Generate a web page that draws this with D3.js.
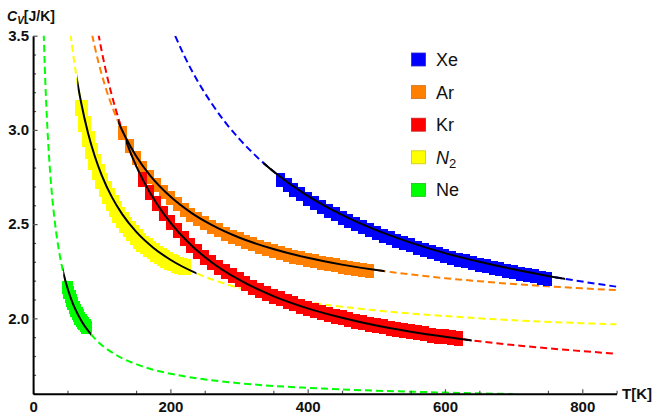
<!DOCTYPE html>
<html>
<head>
<meta charset="utf-8">
<script src="https://cdn.jsdelivr.net/npm/d3@7"></script>
<style>
  body { margin: 0; background: #fff; }
  svg { font-family: "Liberation Sans", Arial, sans-serif; }
</style>
</head>
<body>
<svg id="chart" width="659" height="416"></svg>
<script>
// measured heat capacity (T in K, Cv in J/K)
const xeT  = [360,370,380,390,400,410,420,430,440,450,460,470,480,490,500,510,520,530,540,550,560,570,580,590,600,610,620,630,640,650,660,670,680,690,700,710,720,730,740,750];
const xeCv = [2.736,2.709,2.683,2.658,2.635,2.613,2.592,2.571,2.552,2.534,2.516,2.499,2.483,2.468,2.453,2.439,2.425,2.412,2.399,2.387,2.375,2.363,2.352,2.342,2.331,2.321,2.312,2.302,2.293,2.285,2.276,2.268,2.260,2.252,2.245,2.237,2.230,2.223,2.216,2.210];

const arT  = [130,140,150,160,170,180,190,200,210,220,230,240,250,260,270,280,290,300,310,320,330,340,350,360,370,380,390,400,410,420,430,440,450,460,470,480,490];
const arCv = [2.985,2.913,2.852,2.798,2.750,2.708,2.670,2.636,2.605,2.577,2.551,2.527,2.506,2.486,2.467,2.450,2.434,2.419,2.405,2.392,2.380,2.369,2.358,2.347,2.338,2.328,2.320,2.311,2.303,2.296,2.289,2.282,2.275,2.269,2.263,2.257,2.252];

const krT  = [160,170,180,190,200,210,220,230,240,250,260,270,280,290,300,310,320,330,340,350,360,370,380,390,400,410,420,430,440,450,460,470,480,490,500,510,520,530,540,550,560,570,580,590,600,610,620];
const krCv = [2.735,2.668,2.609,2.555,2.508,2.464,2.425,2.389,2.356,2.325,2.298,2.272,2.248,2.226,2.204,2.185,2.166,2.150,2.133,2.118,2.104,2.090,2.077,2.065,2.053,2.042,2.032,2.021,2.012,2.003,1.994,1.985,1.977,1.969,1.962,1.955,1.948,1.941,1.935,1.929,1.923,1.918,1.911,1.906,1.901,1.896,1.892];

const n2T  = [70,75,80,85,90,95,100,105,110,115,120,125,130,135,140,145,150,155,160,165,170,175,180,185,190,195,200,205,210,215,220];
const n2Cv = [3.114,3.029,2.954,2.888,2.829,2.777,2.729,2.687,2.648,2.612,2.580,2.550,2.522,2.497,2.473,2.451,2.430,2.411,2.393,2.382,2.370,2.357,2.344,2.331,2.320,2.310,2.301,2.292,2.284,2.277,2.270];

const neT  = [50,52,54,56,58,60,62,64,66,68,70,72,74,76,78];
const neCv = [2.161,2.138,2.116,2.096,2.077,2.060,2.044,2.028,2.014,2.001,1.990,1.980,1.970,1.961,1.953];

// fitted curves
const xeFitT  = [207,220,240,260,280,300,330,360,400,450,500,550,600,650,700,750,800,850];
const xeFitCv = [3.499,3.395,3.257,3.141,3.040,2.954,2.843,2.751,2.650,2.549,2.468,2.402,2.346,2.300,2.260,2.225,2.195,2.168];

const arFitT  = [86,90,100,110,120,135,150,170,200,230,260,300,350,400,450,500,550,600,650,700,750,800,850];
const arFitCv = [3.505,3.438,3.294,3.176,3.078,2.958,2.862,2.760,2.646,2.561,2.496,2.429,2.368,2.321,2.285,2.256,2.233,2.213,2.197,2.182,2.170,2.159,2.150];

const krFitT  = [95,100,110,120,130,145,160,180,200,230,260,300,350,400,450,500,550,600,650,700,750,800,850];
const krFitCv = [3.512,3.417,3.251,3.114,2.997,2.852,2.735,2.609,2.508,2.389,2.298,2.205,2.118,2.053,2.003,1.962,1.929,1.902,1.878,1.858,1.841,1.826,1.812];

const n2FitT  = [54.5,60,65,70,80,90,100,115,130,150,175,200,240,280,330,400,500,600,700,850];
const n2FitCv = [3.509,3.358,3.243,3.144,2.984,2.859,2.759,2.642,2.552,2.460,2.375,2.311,2.236,2.183,2.134,2.086,2.042,2.012,1.990,1.968];

const neFitT  = [15.5,17,20,23,27,32,38,45,55,70,90,120,160,220,300,400,500,600,700];
const neFitCv = [3.510,3.337,3.070,2.872,2.677,2.502,2.352,2.228,2.106,1.988,1.892,1.808,1.744,1.693,1.656,1.631,1.616,1.606,1.598];

// temperature range of the solid (fitted) part
const fitTmin = [335,124,135,64.4,44];
const fitTmax = [775,512,639,238,84.3];

const names  = ["Xe","Ar","Kr","N2","Ne"];
const colors = ["#0000ff","#ff8000","#ff0000","#ffff00","#00ff00"];
const strokeColors = ["#2a2acc","#cc7020","#cc2020","#c8c820","#20c020"];

const xTicks = [0,200,400,600,800];
const yTicks = [2.0,2.5,3.0,3.5];

// marker size in px for each data set
const markW = [9,9,9,13,11];
const markH = [14,14,15,16,13];

const series = [
  {T: xeT, Cv: xeCv, fT: xeFitT, fCv: xeFitCv},
  {T: arT, Cv: arCv, fT: arFitT, fCv: arFitCv},
  {T: krT, Cv: krCv, fT: krFitT, fCv: krFitCv},
  {T: n2T, Cv: n2Cv, fT: n2FitT, fCv: n2FitCv},
  {T: neT, Cv: neCv, fT: neFitT, fCv: neFitCv}
].map((s, i) => ({...s, name: names[i], color: colors[i], tmin: fitTmin[i], tmax: fitTmax[i], w: markW[i], h: markH[i]}));

const svg = d3.select("#chart");

const x = d3.scaleLinear().domain([0, 850]).range([33.1, 616.6]);
const y = d3.scaleLinear().domain([1.6, 3.5]).range([393.7, 35.7]);

svg.append("clipPath").attr("id", "plotclip")
  .append("rect")
  .attr("x", x(0)).attr("y", y(3.5))
  .attr("width", x(850) - x(0)).attr("height", y(1.6) - y(3.5));

const line = d3.line()
  .x(d => x(d[0]))
  .y(d => y(d[1]))
  .curve(d3.curveMonotoneX);

const plot = svg.append("g").attr("clip-path", "url(#plotclip)");

// dashed fits
plot.selectAll(".fit")
  .data(series)
  .join("path")
  .attr("class", "fit")
  .attr("fill", "none")
  .attr("stroke", d => d.color)
  .attr("stroke-width", 2)
  .attr("stroke-dasharray", "7,4")
  .attr("d", d => line(d.fT.map((t, k) => [t, d.fCv[k]])));

// data points as small rectangles
series.forEach(s => {
  plot.append("g")
    .attr("shape-rendering", "crispEdges")
    .selectAll("rect")
    .data(s.T.map((t, k) => [t, s.Cv[k]]))
    .join("rect")
    .attr("x", d => x(d[0]) - s.w / 2)
    .attr("y", d => y(d[1]) - s.h / 2)
    .attr("width", s.w)
    .attr("height", s.h)
    .attr("fill", s.color);
});

// solid black part of each fit over the measured range
series.forEach((s, i) => {
  svg.append("clipPath").attr("id", "solid" + i)
    .append("rect")
    .attr("x", x(s.tmin)).attr("y", y(3.5))
    .attr("width", x(s.tmax) - x(s.tmin)).attr("height", y(1.6) - y(3.5));
  plot.append("g").attr("clip-path", "url(#solid" + i + ")")
    .append("path")
    .attr("fill", "none")
    .attr("stroke", "#000")
    .attr("stroke-width", 2)
    .attr("d", line(s.fT.map((t, k) => [t, s.fCv[k]])));
});

// axes (ticks point inward)
const xMinor = d3.range(50, 851, 100);
const yMinor = d3.range(1.6, 3.45, 0.1).filter(v => Math.abs(v * 2 - Math.round(v * 2)) > 0.01);

svg.append("g")
  .attr("transform", `translate(0,${y(1.6)})`)
  .call(d3.axisBottom(x).tickValues(xMinor).tickSizeInner(-3).tickSizeOuter(0).tickFormat(""))
  .call(g => g.select(".domain").remove());
svg.append("g")
  .attr("transform", `translate(${x(0)},0)`)
  .call(d3.axisLeft(y).tickValues(yMinor).tickSizeInner(-3).tickSizeOuter(0).tickFormat(""))
  .call(g => g.select(".domain").remove());

const xAxis = svg.append("g")
  .attr("transform", `translate(0,${y(1.6)})`)
  .call(d3.axisBottom(x).tickValues(xTicks).tickSizeInner(-4.5).tickSizeOuter(0).tickPadding(8).tickFormat(d3.format("d")));
const yAxis = svg.append("g")
  .attr("transform", `translate(${x(0)},0)`)
  .call(d3.axisLeft(y).tickValues(yTicks).tickSizeInner(-4.5).tickSizeOuter(0).tickPadding(4).tickFormat(d3.format(".1f")));

svg.selectAll(".tick line").attr("stroke", "#555").attr("stroke-width", 1.2);
[xAxis, yAxis].forEach(g => {
  g.select(".domain").attr("stroke", "#000").attr("stroke-width", 2);
  g.selectAll("text")
    .attr("font-family", "'Liberation Sans', Arial, sans-serif")
    .attr("font-size", 15)
    .attr("font-weight", "bold")
    .attr("fill", "#111");
});

// axis labels
svg.append("text")
  .attr("x", 622).attr("y", 399)
  .attr("font-size", 15).attr("font-weight", "bold").attr("fill", "#111")
  .text("T[K]");

const yl = svg.append("text")
  .attr("x", 7).attr("y", 21)
  .attr("font-size", 14).attr("font-weight", "bold").attr("fill", "#111");
yl.append("tspan").attr("font-style", "italic").text("C");
yl.append("tspan").attr("font-style", "italic").attr("font-size", 10).attr("dy", 3).text("V");
yl.append("tspan").attr("dy", -3).text("[J/K]");

// legend
const legend = svg.append("g");
series.forEach((s, i) => {
  const ly = 53 + i * 32.6;
  legend.append("rect")
    .attr("x", 411.5).attr("y", ly)
    .attr("width", 14).attr("height", 13)
    .attr("fill", s.color)
    .attr("stroke", strokeColors[i]).attr("stroke-width", 0.8);
  const t = legend.append("text")
    .attr("x", 436).attr("y", ly + 13)
    .attr("font-size", 18).attr("fill", "#111");
  if (s.name === "N2") {
    t.append("tspan").attr("font-style", "italic").text("N");
    t.append("tspan").attr("font-size", 13).attr("dy", 4).text("2");
  } else {
    t.text(s.name);
  }
});
</script>
</body>
</html>
